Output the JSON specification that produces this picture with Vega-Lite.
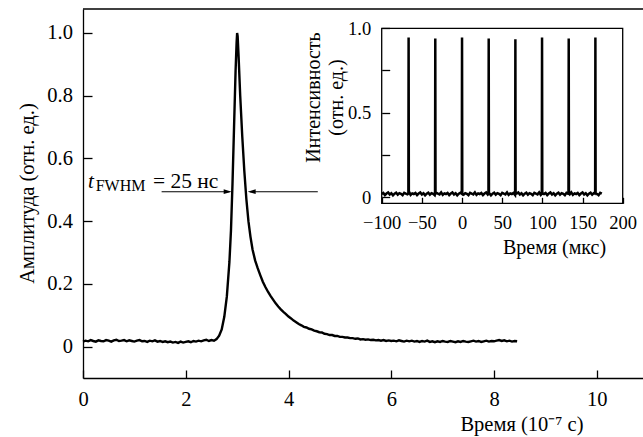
{
  "$schema": "https://vega.github.io/schema/vega-lite/v6.json",
  "width": 560,
  "height": 369,
  "autosize": {"type": "none"},
  "padding": {"left": 83, "top": 9, "right": 0, "bottom": 59},
  "background": "white",
  "config": {
    "view": {"stroke": null},
    "font": "Liberation Serif",
    "axis": {
      "labelFont": "Liberation Serif",
      "titleFont": "Liberation Serif",
      "labelColor": "black",
      "titleColor": "black",
      "domainColor": "black",
      "tickColor": "black",
      "grid": false,
      "titleFontWeight": "normal",
      "labelFontSize": 20.5,
      "titleFontSize": 20.5,
      "domainWidth": 1.3,
      "tickWidth": 1.3,
      "labelFlush": false,
      "labelOverlap": false,
      "labelBound": false
    }
  },
  "datasets": {
    "one": [{}],
    "pulse": [
      {"t":0,"a":0.016},{"t":0.05,"a":0.019},{"t":0.1,"a":0.017},{"t":0.15,"a":0.021},{"t":0.2,"a":0.018},{"t":0.25,"a":0.016},{"t":0.3,"a":0.02},{"t":0.35,"a":0.018},{"t":0.4,"a":0.017},{"t":0.45,"a":0.021},
      {"t":0.5,"a":0.019},{"t":0.55,"a":0.016},{"t":0.6,"a":0.02},{"t":0.65,"a":0.022},{"t":0.7,"a":0.018},{"t":0.75,"a":0.019},{"t":0.8,"a":0.021},{"t":0.85,"a":0.017},{"t":0.9,"a":0.02},{"t":0.95,"a":0.018},
      {"t":1.0,"a":0.016},{"t":1.05,"a":0.019},{"t":1.1,"a":0.021},{"t":1.15,"a":0.017},{"t":1.2,"a":0.018},{"t":1.25,"a":0.015},{"t":1.3,"a":0.019},{"t":1.35,"a":0.017},{"t":1.4,"a":0.02},{"t":1.45,"a":0.016},
      {"t":1.5,"a":0.018},{"t":1.55,"a":0.015},{"t":1.6,"a":0.017},{"t":1.65,"a":0.014},{"t":1.7,"a":0.016},{"t":1.75,"a":0.013},{"t":1.8,"a":0.015},{"t":1.85,"a":0.012},{"t":1.9,"a":0.016},{"t":1.95,"a":0.013},
      {"t":2.0,"a":0.015},{"t":2.05,"a":0.017},{"t":2.1,"a":0.014},{"t":2.15,"a":0.018},{"t":2.2,"a":0.016},{"t":2.25,"a":0.019},{"t":2.3,"a":0.017},{"t":2.35,"a":0.02},{"t":2.4,"a":0.022},{"t":2.45,"a":0.018},
      {"t":2.5,"a":0.021},{"t":2.55,"a":0.019},{"t":2.6,"a":0.024},{"t":2.65,"a":0.035},{"t":2.7,"a":0.055},{"t":2.75,"a":0.095},{"t":2.8,"a":0.16},{"t":2.85,"a":0.27},{"t":2.88,"a":0.37},{"t":2.91,"a":0.52},
      {"t":2.94,"a":0.7},{"t":2.97,"a":0.88},{"t":2.99,"a":0.97},{"t":3.0,"a":1.0},{"t":3.01,"a":0.99},{"t":3.03,"a":0.92},{"t":3.06,"a":0.8},{"t":3.1,"a":0.67},{"t":3.14,"a":0.56},{"t":3.18,"a":0.47},
      {"t":3.22,"a":0.4},{"t":3.26,"a":0.35},{"t":3.3,"a":0.31},{"t":3.35,"a":0.275},{"t":3.4,"a":0.25},{"t":3.45,"a":0.228},{"t":3.5,"a":0.207},{"t":3.55,"a":0.19},{"t":3.6,"a":0.175},{"t":3.65,"a":0.162},
      {"t":3.7,"a":0.15},{"t":3.75,"a":0.138},{"t":3.8,"a":0.128},{"t":3.85,"a":0.119},{"t":3.9,"a":0.111},{"t":3.95,"a":0.104},{"t":4.0,"a":0.096},{"t":4.05,"a":0.09},{"t":4.1,"a":0.083},{"t":4.15,"a":0.078},
      {"t":4.2,"a":0.072},{"t":4.25,"a":0.068},{"t":4.3,"a":0.063},{"t":4.35,"a":0.061},{"t":4.4,"a":0.057},{"t":4.45,"a":0.055},{"t":4.5,"a":0.051},{"t":4.55,"a":0.049},{"t":4.6,"a":0.046},{"t":4.65,"a":0.045},
      {"t":4.7,"a":0.041},{"t":4.75,"a":0.04},{"t":4.8,"a":0.037},{"t":4.85,"a":0.037},{"t":4.9,"a":0.034},{"t":4.95,"a":0.034},{"t":5.0,"a":0.031},{"t":5.05,"a":0.031},{"t":5.1,"a":0.029},{"t":5.15,"a":0.029},
      {"t":5.2,"a":0.027},{"t":5.25,"a":0.027},{"t":5.3,"a":0.025},{"t":5.35,"a":0.026},{"t":5.4,"a":0.023},{"t":5.45,"a":0.024},{"t":5.5,"a":0.022},{"t":5.55,"a":0.023},{"t":5.6,"a":0.021},{"t":5.65,"a":0.022},
      {"t":5.7,"a":0.02},{"t":5.75,"a":0.021},{"t":5.8,"a":0.019},{"t":5.85,"a":0.021},{"t":5.9,"a":0.018},{"t":5.95,"a":0.02},{"t":6.0,"a":0.018},{"t":6.05,"a":0.019},{"t":6.1,"a":0.017},{"t":6.15,"a":0.02},
      {"t":6.2,"a":0.018},{"t":6.25,"a":0.016},{"t":6.3,"a":0.019},{"t":6.35,"a":0.017},{"t":6.4,"a":0.019},{"t":6.45,"a":0.016},{"t":6.5,"a":0.018},{"t":6.55,"a":0.015},{"t":6.6,"a":0.018},{"t":6.65,"a":0.016},
      {"t":6.7,"a":0.019},{"t":6.75,"a":0.015},{"t":6.8,"a":0.017},{"t":6.85,"a":0.014},{"t":6.9,"a":0.017},{"t":6.95,"a":0.015},{"t":7.0,"a":0.018},{"t":7.05,"a":0.016},{"t":7.1,"a":0.015},{"t":7.15,"a":0.018},
      {"t":7.2,"a":0.016},{"t":7.25,"a":0.014},{"t":7.3,"a":0.017},{"t":7.35,"a":0.015},{"t":7.4,"a":0.018},{"t":7.45,"a":0.016},{"t":7.5,"a":0.015},{"t":7.55,"a":0.017},{"t":7.6,"a":0.019},{"t":7.65,"a":0.016},
      {"t":7.7,"a":0.018},{"t":7.75,"a":0.015},{"t":7.8,"a":0.017},{"t":7.85,"a":0.019},{"t":7.9,"a":0.016},{"t":7.95,"a":0.018},{"t":8.0,"a":0.017},{"t":8.05,"a":0.019},{"t":8.1,"a":0.021},{"t":8.15,"a":0.018},
      {"t":8.2,"a":0.02},{"t":8.25,"a":0.017},{"t":8.3,"a":0.019},{"t":8.35,"a":0.016},{"t":8.4,"a":0.018},{"t":8.45,"a":0.017}
    ],
    "train": [
      {"t":-100,"v":0.018},{"t":-98,"v":0.024},{"t":-96,"v":0.012},{"t":-94,"v":0.021},{"t":-92,"v":0.027},{"t":-90,"v":0.015},{"t":-88,"v":0.022},{"t":-86,"v":0.01},{"t":-84,"v":0.02},{"t":-82,"v":0.026},
      {"t":-80,"v":0.014},{"t":-78,"v":0.023},{"t":-76,"v":0.019},{"t":-74,"v":0.011},{"t":-72,"v":0.025},{"t":-70,"v":0.02},{"t":-68,"v":0.016},{"t":-66.8,"v":0.02},{"t":-66.5,"v":0.945},{"t":-66.2,"v":0.03},
      {"t":-66,"v":0.032},{"t":-64,"v":0.013},{"t":-62,"v":0.022},{"t":-60,"v":0.018},{"t":-58,"v":0.024},{"t":-56,"v":0.012},{"t":-54,"v":0.021},{"t":-52,"v":0.027},{"t":-50,"v":0.015},{"t":-48,"v":0.022},
      {"t":-46,"v":0.01},{"t":-44,"v":0.02},{"t":-42,"v":0.026},{"t":-40,"v":0.014},{"t":-38,"v":0.023},{"t":-36,"v":0.019},{"t":-34,"v":0.011},{"t":-33.6,"v":0.02},{"t":-33.3,"v":0.94},{"t":-33.0,"v":0.02},
      {"t":-32,"v":0.025},{"t":-30,"v":0.02},{"t":-28,"v":0.016},{"t":-26,"v":0.028},{"t":-24,"v":0.013},{"t":-22,"v":0.022},{"t":-20,"v":0.018},{"t":-18,"v":0.024},{"t":-16,"v":0.012},{"t":-14,"v":0.021},
      {"t":-12,"v":0.027},{"t":-10,"v":0.015},{"t":-8,"v":0.022},{"t":-6,"v":0.01},{"t":-4,"v":0.02},{"t":-2,"v":0.026},{"t":-0.3,"v":0.02},{"t":0,"v":0.945},{"t":0.3,"v":0.02},{"t":2,"v":0.014},
      {"t":4,"v":0.023},{"t":6,"v":0.019},{"t":8,"v":0.011},{"t":10,"v":0.025},{"t":12,"v":0.02},{"t":14,"v":0.016},{"t":16,"v":0.028},{"t":18,"v":0.013},{"t":20,"v":0.022},{"t":22,"v":0.018},
      {"t":24,"v":0.024},{"t":26,"v":0.012},{"t":28,"v":0.021},{"t":30,"v":0.027},{"t":32,"v":0.015},{"t":32.9,"v":0.02},{"t":33.2,"v":0.94},{"t":33.5,"v":0.02},{"t":34,"v":0.022},{"t":36,"v":0.01},
      {"t":38,"v":0.02},{"t":40,"v":0.026},{"t":42,"v":0.014},{"t":44,"v":0.023},{"t":46,"v":0.019},{"t":48,"v":0.011},{"t":50,"v":0.025},{"t":52,"v":0.02},{"t":54,"v":0.016},{"t":56,"v":0.028},
      {"t":58,"v":0.013},{"t":60,"v":0.022},{"t":62,"v":0.018},{"t":64,"v":0.024},{"t":66,"v":0.012},{"t":66.1,"v":0.02},{"t":66.4,"v":0.935},{"t":66.7,"v":0.02},{"t":68,"v":0.021},{"t":70,"v":0.027},
      {"t":72,"v":0.015},{"t":74,"v":0.022},{"t":76,"v":0.01},{"t":78,"v":0.02},{"t":80,"v":0.026},{"t":82,"v":0.014},{"t":84,"v":0.023},{"t":86,"v":0.019},{"t":88,"v":0.011},{"t":90,"v":0.025},
      {"t":92,"v":0.02},{"t":94,"v":0.016},{"t":96,"v":0.028},{"t":98,"v":0.013},{"t":99.3,"v":0.02},{"t":99.6,"v":0.945},{"t":99.9,"v":0.02},{"t":100,"v":0.022},{"t":102,"v":0.018},{"t":104,"v":0.024},
      {"t":106,"v":0.012},{"t":108,"v":0.021},{"t":110,"v":0.027},{"t":112,"v":0.015},{"t":114,"v":0.022},{"t":116,"v":0.01},{"t":118,"v":0.02},{"t":120,"v":0.026},{"t":122,"v":0.014},{"t":124,"v":0.023},
      {"t":126,"v":0.019},{"t":128,"v":0.011},{"t":130,"v":0.025},{"t":132,"v":0.02},{"t":132.5,"v":0.02},{"t":132.8,"v":0.94},{"t":133.1,"v":0.02},{"t":134,"v":0.016},{"t":136,"v":0.028},{"t":138,"v":0.013},
      {"t":140,"v":0.022},{"t":142,"v":0.018},{"t":144,"v":0.024},{"t":146,"v":0.012},{"t":148,"v":0.021},{"t":150,"v":0.027},{"t":152,"v":0.015},{"t":154,"v":0.022},{"t":156,"v":0.01},{"t":158,"v":0.02},
      {"t":160,"v":0.026},{"t":162,"v":0.014},{"t":164,"v":0.023},{"t":165.7,"v":0.02},{"t":166,"v":0.945},{"t":166.3,"v":0.02},{"t":168,"v":0.019},{"t":170,"v":0.011},{"t":172,"v":0.025},{"t":174,"v":0.02}
    ]
  },
  "layer": [
    {
      "resolve": {"scale": {"x": "shared", "y": "shared"}},
      "layer": [
        {
          "data": {"name": "pulse"},
          "mark": {"type": "line", "color": "black", "strokeWidth": 2.4},
          "encoding": {
            "x": {
              "field": "t", "type": "quantitative",
              "scale": {"domain": [0, 10.9], "nice": false, "zero": false},
              "axis": {
                "orient": "bottom",
                "values": [0, 2, 4, 6, 8, 10],
                "format": "d",
                "labelFont": "Liberation Serif",
                "titleFont": "Liberation Serif",
                "tickSize": -8,
                "labelPadding": 19,
                "title": "Время (10⁻⁷ с)",
                "titleX": 500,
                "titleY": 52,
                "titleAlign": "right",
                "titleBaseline": "alphabetic"
              }
            },
            "y": {
              "field": "a", "type": "quantitative",
              "scale": {"domain": [-0.1, 1.0765], "nice": false, "zero": false},
              "axis": {
                "orient": "left",
                "values": [0, 0.2, 0.4, 0.6, 0.8, 1.0],
                "labelExpr": "datum.value == 0 ? '0' : format(datum.value, '.1f')",
                "labelFont": "Liberation Serif",
                "titleFont": "Liberation Serif",
                "tickSize": -9,
                "labelPadding": 19.6,
                "title": "Амплитуда (отн. ед.)",
                "titleX": -56,
                "titleY": 184,
                "titleAngle": -90,
                "titleAlign": "center",
                "titleBaseline": "middle"
              }
            }
          }
        },
        {
          "data": {"name": "one"},
          "mark": {"type": "rule", "color": "black", "strokeWidth": 1.3},
          "encoding": {"y": {"datum": 1.0765, "type": "quantitative"}}
        },
        {
          "data": {"name": "one"},
          "mark": {"type": "rule", "color": "black", "strokeWidth": 1.1},
          "encoding": {"x": {"datum": 1.53, "type": "quantitative"}, "x2": {"datum": 2.85}, "y": {"datum": 0.494, "type": "quantitative"}}
        },
        {
          "data": {"name": "one"},
          "mark": {"type": "rule", "color": "black", "strokeWidth": 1.1},
          "encoding": {"x": {"datum": 3.25, "type": "quantitative"}, "x2": {"datum": 4.57}, "y": {"datum": 0.494, "type": "quantitative"}}
        },
        {
          "data": {"name": "one"},
          "mark": {"type": "point", "shape": "M0,0 L-2,-0.6 L-2,0.6 Z", "size": 64, "filled": true, "color": "black", "opacity": 1, "strokeWidth": 0},
          "encoding": {"x": {"datum": 2.894, "type": "quantitative"}, "y": {"datum": 0.494, "type": "quantitative"}}
        },
        {
          "data": {"name": "one"},
          "mark": {"type": "point", "shape": "M0,0 L2,-0.6 L2,0.6 Z", "size": 64, "filled": true, "color": "black", "opacity": 1, "strokeWidth": 0},
          "encoding": {"x": {"datum": 3.205, "type": "quantitative"}, "y": {"datum": 0.494, "type": "quantitative"}}
        },
        {
          "data": {"name": "one"},
          "mark": {"type": "text", "text": "t", "font": "Liberation Serif", "fontStyle": "italic", "fontSize": 21, "align": "left", "baseline": "alphabetic", "color": "black"},
          "encoding": {"x": {"datum": 0.097, "type": "quantitative"}, "y": {"datum": 0.505, "type": "quantitative"}}
        },
        {
          "data": {"name": "one"},
          "mark": {"type": "text", "text": "FWHM", "font": "Liberation Serif", "fontSize": 16, "align": "left", "baseline": "alphabetic", "color": "black"},
          "encoding": {"x": {"datum": 0.247, "type": "quantitative"}, "y": {"datum": 0.497, "type": "quantitative"}}
        },
        {
          "data": {"name": "one"},
          "mark": {"type": "text", "text": "= 25 нс", "font": "Liberation Serif", "fontSize": 21.5, "align": "left", "baseline": "alphabetic", "color": "black"},
          "encoding": {"x": {"datum": 1.362, "type": "quantitative"}, "y": {"datum": 0.505, "type": "quantitative"}}
        }
      ]
    },
    {
      "resolve": {"scale": {"x": "shared", "y": "shared"}},
      "layer": [
        {
          "data": {"name": "train"},
          "mark": {"type": "line", "color": "black", "strokeWidth": 2.5},
          "encoding": {
            "x": {
              "field": "t", "type": "quantitative",
              "scale": {"domain": [-100, 200], "range": [298.7, 539.7], "nice": false, "zero": false},
              "axis": {
                "orient": "bottom",
                "offset": -174.7,
                "values": [-100, -50, 0, 50, 100, 150, 200],
                "labelFont": "Liberation Serif",
                "titleFont": "Liberation Serif",
                "domain": false,
                "tickSize": -6,
                "labelPadding": 16,
                "labelFontSize": 18.5,
                "title": "Время (мкс)",
                "titleFontSize": 20,
                "titleX": 471,
                "titleY": 50,
                "titleAlign": "center",
                "titleBaseline": "alphabetic"
              }
            },
            "y": {
              "field": "v", "type": "quantitative",
              "scale": {"domain": [-0.037, 1.0], "range": [194.3, 19.3], "nice": false, "zero": false},
              "axis": {
                "orient": "left",
                "offset": -298.7,
                "values": [0, 0.25, 0.5, 0.75, 1.0],
                "labelExpr": "datum.value == 0 ? '0' : datum.value == 0.5 ? '0.5' : datum.value == 1 ? '1.0' : ''",
                "labelFont": "Liberation Serif",
                "titleFont": "Liberation Serif",
                "domain": false,
                "tickSize": -8,
                "labelPadding": 19,
                "labelFontSize": 18.5,
                "title": ["Интенсивность", "(отн. ед.)"],
                "titleFontSize": 20,
                "titleLineHeight": 23,
                "titleAngle": -90,
                "titleX": -68.7,
                "titleY": 88,
                "titleAlign": "center",
                "titleBaseline": "middle"
              }
            }
          }
        },
        {
          "data": {"name": "one"},
          "mark": {"type": "rect", "fillOpacity": 0, "stroke": "black", "strokeWidth": 1.3},
          "encoding": {"x": {"datum": -100, "type": "quantitative"}, "x2": {"datum": 200}, "y": {"datum": -0.037, "type": "quantitative"}, "y2": {"datum": 1.0}}
        }
      ]
    }
  ],
  "resolve": {
    "scale": {"x": "independent", "y": "independent"},
    "axis": {"x": "independent", "y": "independent"}
  }
}
